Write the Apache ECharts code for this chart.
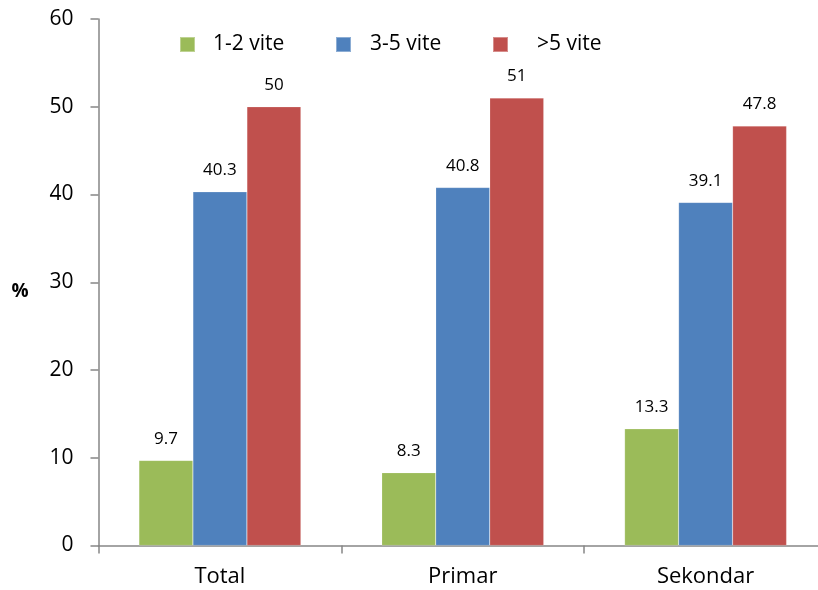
<!DOCTYPE html>
<html>
<head>
<meta charset="utf-8">
<script src="https://cdn.jsdelivr.net/npm/echarts@6/dist/echarts.min.js"></script>
<style>
  html, body { margin: 0; padding: 0; background: #fff; overflow: hidden; }
  /* the plot area runs slightly past the right edge of the window */
  #chart { width: 827px; height: 590px; }
</style>
</head>
<body>
<div id="chart"></div>
<script>
// Categories and series values
const categories = ['Total', 'Primar', 'Sekondar'];
const seriesNames = ['1-2 vite', '3-5 vite', '>5 vite'];
const values12 = [9.7, 8.3, 13.3];
const values35 = [40.3, 40.8, 39.1];
const values5plus = [50, 51, 47.8];
const yTicks = [0, 10, 20, 30, 40, 50, 60];

const colors = ['#9BBB59', '#4F81BD', '#C0504D'];
const font = 'Open Sans';
const axisGrey = '#868686';

const chart = echarts.init(document.getElementById('chart'));

function legendAt(name, left, gap) {
  return {
    data: [name],
    left: left,
    top: 29,
    icon: 'rect',
    itemWidth: 15,
    itemHeight: 15,
    selectedMode: false,
    textStyle: { fontFamily: font, fontSize: 21, color: '#000', padding: [0, 0, 0, gap] }
  };
}

function barSeries(name, data, color) {
  return {
    name: name,
    type: 'bar',
    data: data,
    barWidth: 54,
    barGap: '0%',
    itemStyle: { color: color, borderColor: 'rgba(255,255,255,0.35)', borderWidth: 0.5 },
    label: {
      show: true,
      position: 'top',
      distance: 13,
      fontFamily: font,
      fontSize: 17,
      color: '#000'
    }
  };
}

chart.setOption({
  animation: false,
  legend: [
    legendAt(seriesNames[0], 174, 13),
    legendAt(seriesNames[1], 330, 14),
    legendAt(seriesNames[2], 487, 24)
  ],
  grid: { left: 98.5, top: 19, right: 0, height: 526.5, containLabel: false },
  xAxis: {
    type: 'category',
    data: categories,
    axisLine: { lineStyle: { color: axisGrey, width: 1.5 } },
    axisTick: { show: true, length: 8, inside: false, lineStyle: { color: axisGrey, width: 1.5 } },
    axisLabel: { fontFamily: font, fontSize: 22, color: '#000', margin: 20 }
  },
  yAxis: {
    type: 'value',
    min: yTicks[0],
    max: yTicks[yTicks.length - 1],
    interval: 10,
    name: '%',
    nameLocation: 'middle',
    nameRotate: 0,
    nameGap: 70,
    nameTextStyle: { fontFamily: font, fontSize: 19, fontWeight: 'bold', color: '#000', verticalAlign: 'top' },
    axisLine: { show: true, lineStyle: { color: axisGrey, width: 1.5 } },
    axisTick: { show: true, length: 8, lineStyle: { color: axisGrey, width: 1.5 } },
    splitLine: { show: false },
    axisLabel: { fontFamily: font, fontSize: 21, color: '#000', margin: 25 }
  },
  series: [
    barSeries(seriesNames[0], values12, colors[0]),
    barSeries(seriesNames[1], values35, colors[1]),
    barSeries(seriesNames[2], values5plus, colors[2])
  ]
});
</script>
</body>
</html>
